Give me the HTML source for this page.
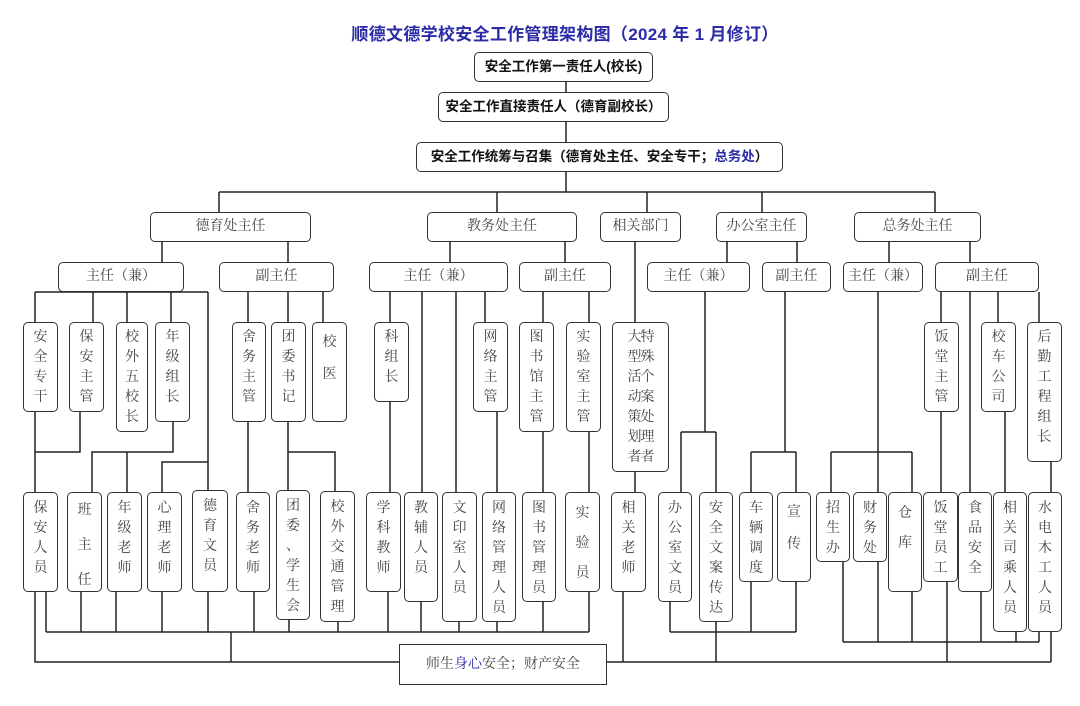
<!DOCTYPE html>
<html><head><meta charset="utf-8"><style>
body{margin:0;width:1080px;height:706px;background:#fff;position:relative;overflow:hidden;font-family:"Liberation Sans","Noto Sans CJK SC",sans-serif}
svg{position:absolute;left:0;top:0}
.b{position:absolute;border:1.4px solid #333;border-radius:5px;background:#fff;box-sizing:border-box;text-align:center;font-size:14px;line-height:20px;color:#444;padding-top:5px;font-family:"Liberation Serif","Noto Serif CJK SC",serif}
.h{padding-top:0;line-height:27px}
.t{font-weight:bold;color:#111;font-family:"Liberation Sans","Noto Sans CJK SC",sans-serif;font-size:13.5px}
.blue{color:#2b2ba8}
</style></head><body>
<div style="position:absolute;left:0;width:1130px;top:20px;text-align:center;font-size:17px;font-weight:bold;color:#2b2ba8;letter-spacing:0.3px">顺德文德学校安全工作管理架构图（2024 年 1 月修订）</div>
<svg width="1080" height="706" stroke="#222" stroke-width="1.5" fill="none">
<path d="M566 82V92M566 122V142M566 172V192M219 192H935M219 192V212M497 192V212M647 192V212M762 192V212M935 192V212"/>
<path d="M162 242V262M288 242V262M450 242V262M565 242V262M727 242V262M797 242V262M889 242V262M970 242V262"/>
<path d="M35 292H208M35 292V322M93 292V322M127 292V322M171 292V322M208 292V490M248 292V322M288 292V322M323 292V322"/>
<path d="M35 412V492M80 412V452H35M173 422V452H92V492M127 452V492M162 492V462H208M248 422V492M288 422V490M288 452H335V491"/>
<path d="M46 592V632M81 592V632M116 592V632M162 592V632M208 592V632M254 592V632M289 620V632M338 622V632M46 632H589M231 632V662M35 592V662H399"/>
<path d="M390 292V322M422 292V492M456 292V492M485 292V322M543 292V322M589 292V322M390 402V492M497 412V492M543 432V492M589 432V492M635 242V322M635 472V492"/>
<path d="M388 592V632M421 602V632M459 622V632M497 622V632M543 602V632M589 592V632M623 592V662M607 662H1051"/>
<path d="M705 292V432M681 432H716M681 432V492M716 432V492M785 292V452M751 452H796M751 452V492M796 452V492M670 602V632M716 622V662M751 582V632M796 582V632M670 632H796"/>
<path d="M878 292V642M831 452H912M831 452V492M912 452V492M941 292V322M941 412V492M970 292V492M998 292V322M1005 412V492M1039 292V322M1051 462V492"/>
<path d="M843 562V642M912 592V642M981 592V642M1016 632V642M1039 632V642M843 642H1039M947 582V662M1051 632V662"/>
</svg>
<div class="b h t" style="left:474px;top:52px;width:179px;height:30px">安全工作第一责任人(校长)</div>
<div class="b h t" style="left:438px;top:92px;width:231px;height:30px">安全工作直接责任人（德育副校长）</div>
<div class="b h t" style="left:416px;top:142px;width:367px;height:30px">安全工作统筹与召集（德育处主任、安全专干；<span class="blue">总务处</span>）</div>
<div class="b h" style="left:150px;top:212px;width:161px;height:30px">德育处主任</div>
<div class="b h" style="left:427px;top:212px;width:150px;height:30px">教务处主任</div>
<div class="b h" style="left:600px;top:212px;width:81px;height:30px">相关部门</div>
<div class="b h" style="left:716px;top:212px;width:91px;height:30px">办公室主任</div>
<div class="b h" style="left:854px;top:212px;width:127px;height:30px">总务处主任</div>
<div class="b h" style="left:58px;top:262px;width:126px;height:30px">主任（兼）</div>
<div class="b h" style="left:219px;top:262px;width:115px;height:30px">副主任</div>
<div class="b h" style="left:369px;top:262px;width:139px;height:30px">主任（兼）</div>
<div class="b h" style="left:519px;top:262px;width:92px;height:30px">副主任</div>
<div class="b h" style="left:647px;top:262px;width:103px;height:30px">主任（兼）</div>
<div class="b h" style="left:762px;top:262px;width:69px;height:30px">副主任</div>
<div class="b h" style="left:843px;top:262px;width:80px;height:30px">主任（兼）</div>
<div class="b h" style="left:935px;top:262px;width:104px;height:30px">副主任</div>
<div class="b" style="left:23px;top:322px;width:35px;height:90px">安<br>全<br>专<br>干</div>
<div class="b" style="left:69px;top:322px;width:35px;height:90px">保<br>安<br>主<br>管</div>
<div class="b" style="left:116px;top:322px;width:32px;height:110px">校<br>外<br>五<br>校<br>长</div>
<div class="b" style="left:155px;top:322px;width:35px;height:100px">年<br>级<br>组<br>长</div>
<div class="b" style="left:232px;top:322px;width:34px;height:100px">舍<br>务<br>主<br>管</div>
<div class="b" style="left:271px;top:322px;width:35px;height:100px">团<br>委<br>书<br>记</div>
<div class="b" style="left:312px;top:322px;width:35px;height:100px;line-height:32px;padding-top:4px">校<br>医</div>
<div class="b" style="left:374px;top:322px;width:35px;height:80px">科<br>组<br>长</div>
<div class="b" style="left:473px;top:322px;width:35px;height:90px">网<br>络<br>主<br>管</div>
<div class="b" style="left:519px;top:322px;width:35px;height:110px">图<br>书<br>馆<br>主<br>管</div>
<div class="b" style="left:566px;top:322px;width:35px;height:110px">实<br>验<br>室<br>主<br>管</div>
<div class="b" style="left:612px;top:322px;width:57px;height:150px;letter-spacing:-1px">大特<br>型殊<br>活个<br>动案<br>策处<br>划理<br>者者</div>
<div class="b" style="left:924px;top:322px;width:35px;height:90px">饭<br>堂<br>主<br>管</div>
<div class="b" style="left:981px;top:322px;width:35px;height:90px">校<br>车<br>公<br>司</div>
<div class="b" style="left:1027px;top:322px;width:35px;height:140px">后<br>勤<br>工<br>程<br>组<br>长</div>
<div class="b" style="left:23px;top:492px;width:35px;height:100px;padding-top:6px">保<br>安<br>人<br>员</div>
<div class="b" style="left:67px;top:492px;width:35px;height:100px;line-height:35px;padding-top:0">班<br>主<br>任</div>
<div class="b" style="left:107px;top:492px;width:35px;height:100px;padding-top:6px">年<br>级<br>老<br>师</div>
<div class="b" style="left:147px;top:492px;width:35px;height:100px;padding-top:6px">心<br>理<br>老<br>师</div>
<div class="b" style="left:192px;top:490px;width:36px;height:102px;padding-top:6px">德<br>育<br>文<br>员</div>
<div class="b" style="left:236px;top:492px;width:34px;height:100px;padding-top:6px">舍<br>务<br>老<br>师</div>
<div class="b" style="left:276px;top:490px;width:34px;height:130px;padding-top:6px">团<br>委<br>、<br>学<br>生<br>会</div>
<div class="b" style="left:320px;top:491px;width:35px;height:131px;padding-top:6px">校<br>外<br>交<br>通<br>管<br>理</div>
<div class="b" style="left:366px;top:492px;width:35px;height:100px;padding-top:6px">学<br>科<br>教<br>师</div>
<div class="b" style="left:404px;top:492px;width:34px;height:110px;padding-top:6px">教<br>辅<br>人<br>员</div>
<div class="b" style="left:442px;top:492px;width:35px;height:130px;padding-top:6px">文<br>印<br>室<br>人<br>员</div>
<div class="b" style="left:482px;top:492px;width:34px;height:130px;padding-top:6px">网<br>络<br>管<br>理<br>人<br>员</div>
<div class="b" style="left:522px;top:492px;width:34px;height:110px;padding-top:6px">图<br>书<br>管<br>理<br>员</div>
<div class="b" style="left:565px;top:492px;width:35px;height:100px;line-height:30px;padding-top:6px">实<br>验<br>员</div>
<div class="b" style="left:611px;top:492px;width:35px;height:100px;padding-top:6px">相<br>关<br>老<br>师</div>
<div class="b" style="left:658px;top:492px;width:34px;height:110px;padding-top:6px">办<br>公<br>室<br>文<br>员</div>
<div class="b" style="left:699px;top:492px;width:34px;height:130px;padding-top:6px">安<br>全<br>文<br>案<br>传<br>达</div>
<div class="b" style="left:739px;top:492px;width:34px;height:90px;padding-top:6px">车<br>辆<br>调<br>度</div>
<div class="b" style="left:777px;top:492px;width:34px;height:90px;line-height:32px;padding-top:4px">宣<br>传</div>
<div class="b" style="left:816px;top:492px;width:34px;height:70px;padding-top:6px">招<br>生<br>办</div>
<div class="b" style="left:853px;top:492px;width:34px;height:70px;padding-top:6px">财<br>务<br>处</div>
<div class="b" style="left:888px;top:492px;width:34px;height:100px;line-height:30px;padding-top:6px">仓<br>库</div>
<div class="b" style="left:923px;top:492px;width:35px;height:90px;padding-top:6px">饭<br>堂<br>员<br>工</div>
<div class="b" style="left:958px;top:492px;width:34px;height:100px;padding-top:6px">食<br>品<br>安<br>全</div>
<div class="b" style="left:993px;top:492px;width:34px;height:140px;padding-top:6px">相<br>关<br>司<br>乘<br>人<br>员</div>
<div class="b" style="left:1028px;top:492px;width:34px;height:140px;padding-top:6px">水<br>电<br>木<br>工<br>人<br>员</div>
<div class="b h" style="left:399px;top:644px;width:208px;height:41px;border-radius:0;line-height:39px">师生<span class="blue">身心</span>安全；财产安全</div>
</body></html>
